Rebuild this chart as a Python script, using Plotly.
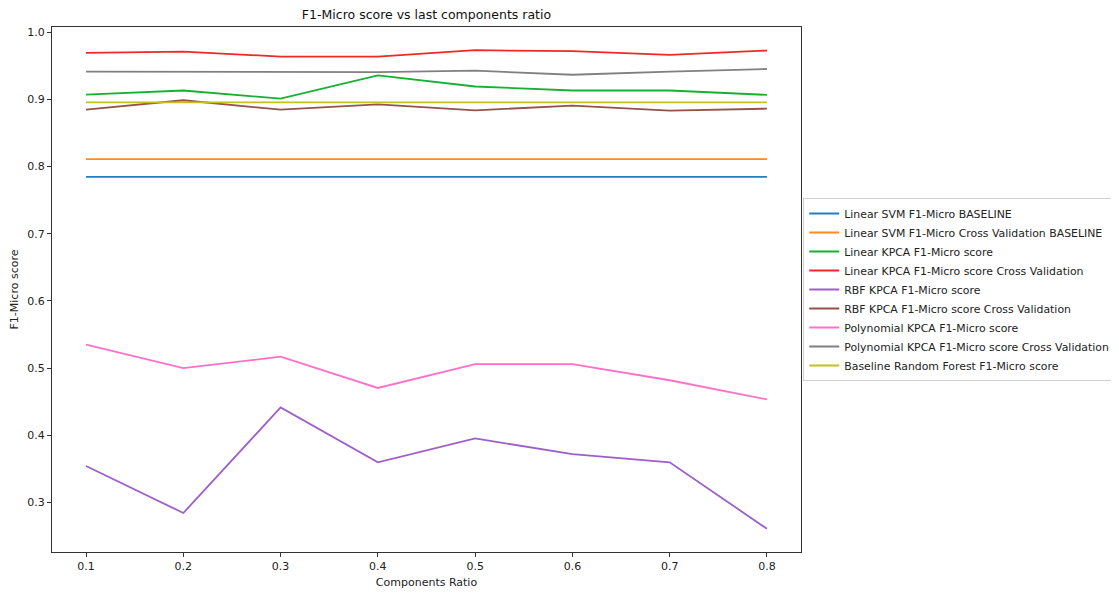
import plotly.graph_objects as go

ratios = [0.1, 0.2, 0.3, 0.4, 0.5, 0.6, 0.7, 0.8]

svm_baseline = [0.7845] * 8
svm_cv_baseline = [0.811] * 8
linear_kpca = [0.907, 0.913, 0.901, 0.9355, 0.919, 0.913, 0.913, 0.9065]
linear_kpca_cv = [0.969, 0.971, 0.9635, 0.9635, 0.973, 0.9715, 0.966, 0.9725]
rbf_kpca = [0.3545, 0.2845, 0.4415, 0.360, 0.3955, 0.372, 0.360, 0.261]
rbf_kpca_cv = [0.8845, 0.8985, 0.8845, 0.8925, 0.8835, 0.8905, 0.883, 0.886]
poly_kpca = [0.535, 0.500, 0.517, 0.4705, 0.506, 0.506, 0.482, 0.4535]
poly_kpca_cv = [0.941, 0.941, 0.941, 0.9405, 0.9425, 0.9365, 0.941, 0.945]
rf_baseline = [0.8955] * 8

names = [
    "Linear SVM F1-Micro BASELINE",
    "Linear SVM F1-Micro Cross Validation BASELINE",
    "Linear KPCA F1-Micro score",
    "Linear KPCA F1-Micro score Cross Validation",
    "RBF KPCA F1-Micro score",
    "RBF KPCA F1-Micro score Cross Validation",
    "Polynomial KPCA F1-Micro score",
    "Polynomial KPCA F1-Micro score Cross Validation",
    "Baseline Random Forest F1-Micro score",
]
series = [svm_baseline, svm_cv_baseline, linear_kpca, linear_kpca_cv, rbf_kpca,
          rbf_kpca_cv, poly_kpca, poly_kpca_cv, rf_baseline]
colors = ["#1f7fc4", "#ff8a1e", "#16b033", "#f02828", "#9d5fc9",
          "#94524a", "#ff70c8", "#808080", "#c2c21a"]

fig = go.Figure()
for n, s, c in zip(names, series, colors):
    fig.add_trace(go.Scatter(x=ratios, y=s, mode="lines", name=n,
                             line=dict(color=c, width=1.8)))

# page body has an 8px margin, so the figure is offset by 8px
W, H = 1111, 585
font = "DejaVu Sans, sans-serif"
fig.update_layout(
    width=W, height=H,
    margin=dict(l=44, r=318, t=19, b=41, autoexpand=False),
    paper_bgcolor="white", plot_bgcolor="white",
    font=dict(family=font, size=11, color="#222"),
    title=dict(text="F1-Micro score vs last components ratio", x=(44 + 793) / 2 / W,
               xanchor="center", y=1 - 7 / H, yanchor="middle",
               font=dict(family=font, size=12.5, color="#111")),
    showlegend=True,
    legend=dict(x=1.003, y=0.5, xanchor="left", yanchor="middle",
                bordercolor="#d0d0d0", borderwidth=1, bgcolor="white",
                font=dict(family=font, size=10.9, color="#222"),
                tracegroupgap=0, itemwidth=30),
)
fig.update_xaxes(
    range=[0.065, 0.835], tickvals=ratios, ticktext=["0.1", "0.2", "0.3", "0.4", "0.5", "0.6", "0.7", "0.8"],
    showgrid=False, zeroline=False, showline=True, linecolor="#333", linewidth=1, mirror=True,
    ticks="outside", ticklen=4, tickcolor="#333", automargin=False,
    title=dict(text="Components Ratio", font=dict(family=font, size=11), standoff=6),
)
fig.update_yaxes(
    range=[0.2265, 1.0075], tickvals=[0.3, 0.4, 0.5, 0.6, 0.7, 0.8, 0.9, 1.0],
    ticktext=["0.3", "0.4", "0.5", "0.6", "0.7", "0.8", "0.9", "1.0"],
    showgrid=False, zeroline=False, showline=True, linecolor="#333", linewidth=1, mirror=True,
    ticks="outside", ticklen=4, tickcolor="#333", automargin=False,
    title=dict(text="F1-Micro score", font=dict(family=font, size=11), standoff=8),
)
fig.write_html("out.html")
